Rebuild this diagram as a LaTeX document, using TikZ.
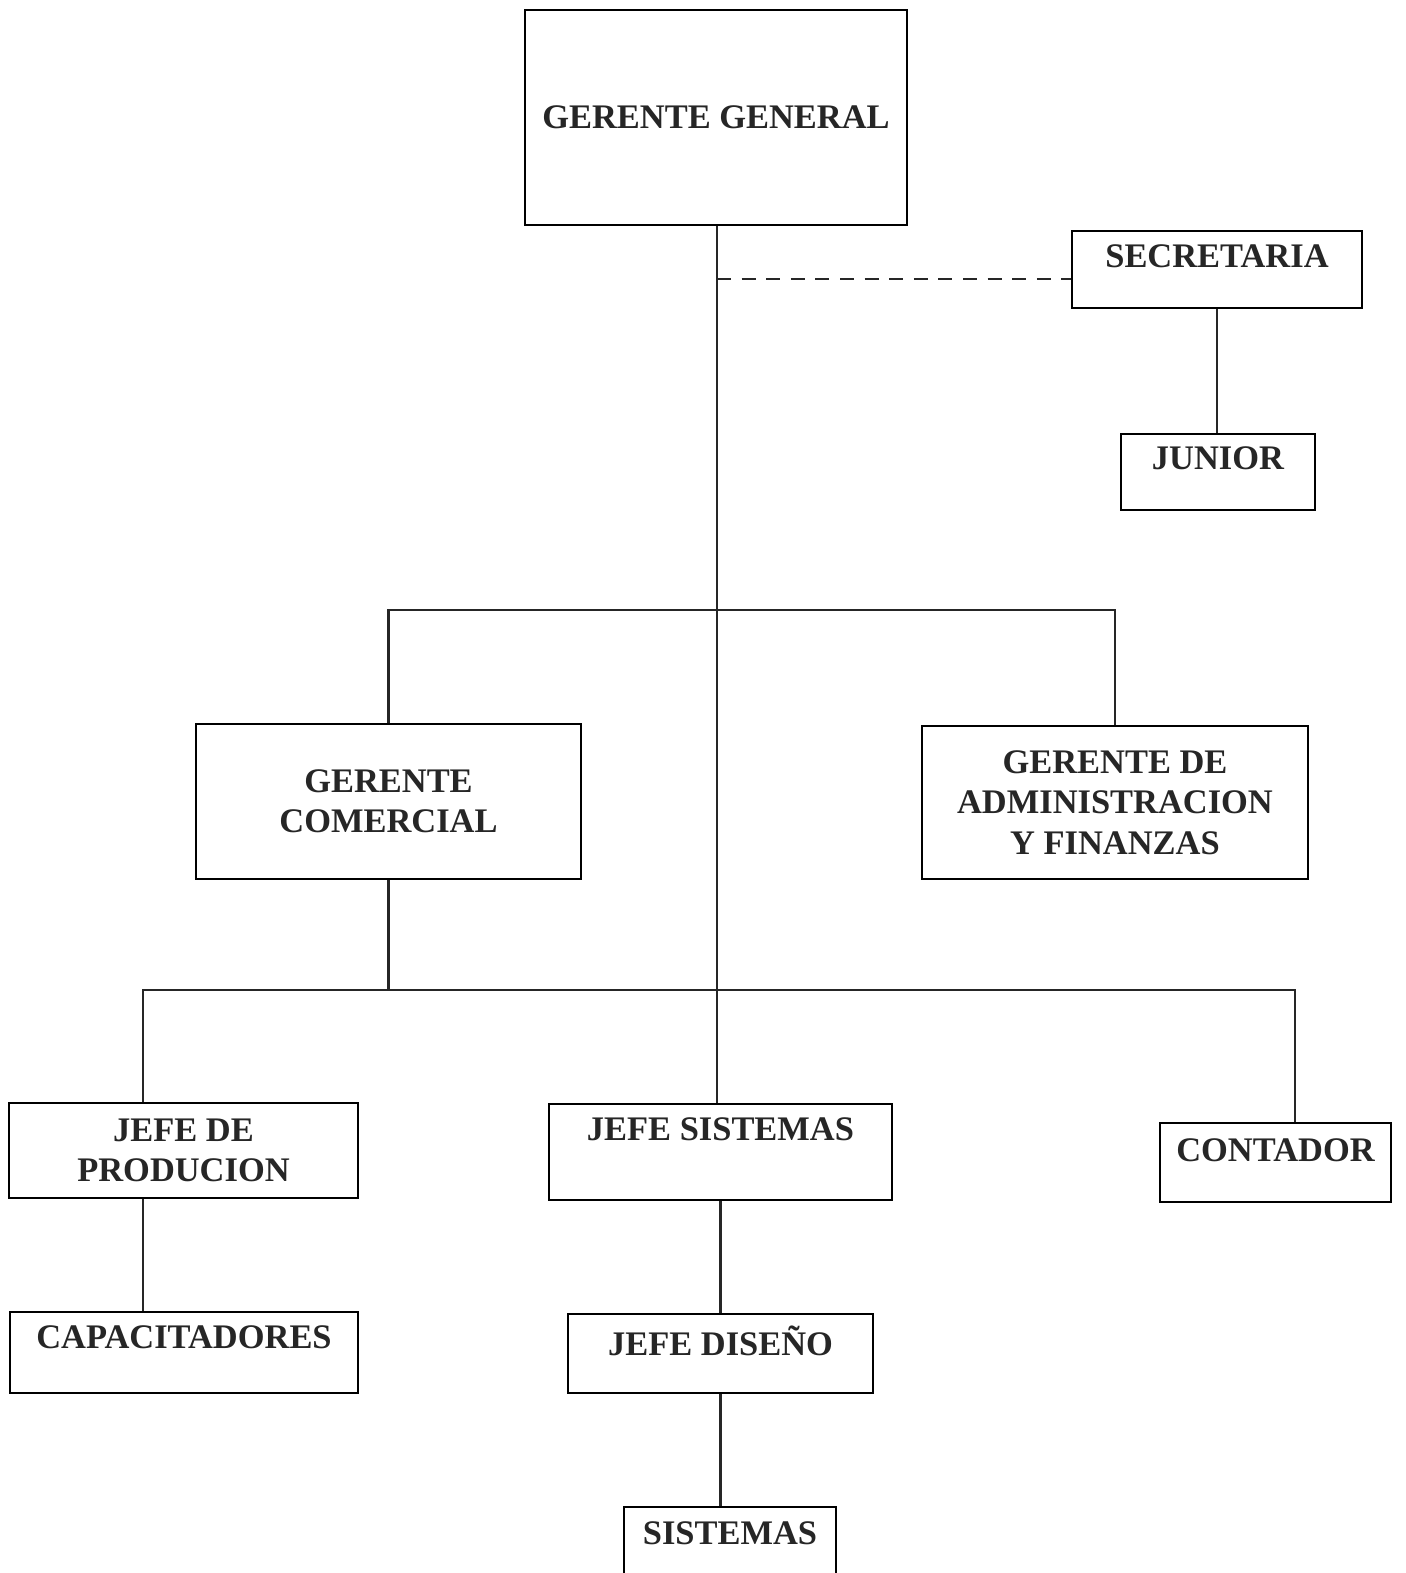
\documentclass[tikz,border=0pt]{standalone}
\usepackage{fontspec}
\setmainfont{Liberation Serif}
\usepackage{tikz}
\usetikzlibrary{positioning}
\tikzstyle{box}=[rectangle,draw=black,line width=0.8pt,inner sep=0pt,text=black!85,font=\fontsize{9.8}{11.5}\selectfont\bfseries,align=center]
\tikzstyle{line}=[line width=0.7pt,draw=black!85]
\tikzstyle{dashline}=[line width=0.6pt,draw=black!85,dash pattern=on 4pt off 3pt]

\begin{document}
\begin{tikzpicture}
            \clip (0,0) rectangle (14.06,-15.73);
            \fill[white] (0,0) rectangle (14.06,-15.73);
            \node (gerente)[box,minimum width=3.82cm,minimum height=2.15cm] at (7.16,-1.175) {GERENTE GENERAL};
            \node (secretaria)[box,minimum width=2.90cm,minimum height=0.77cm,text depth=0.26cm] at (12.17,-2.695) {SECRETARIA};
            \node (junior)[box,minimum width=1.94cm,minimum height=0.76cm,text depth=0.28cm] at (12.18,-4.72) {JUNIOR};
            \node (comercial)[box,minimum width=3.85cm,minimum height=1.55cm] at (3.885,-8.015) {GERENTE\\COMERCIAL};
            \node (admin)[box,minimum width=3.86cm,minimum height=1.53cm] at (11.15,-8.025) {GERENTE DE\\ADMINISTRACION\\Y FINANZAS};
            \node (produccion)[box,minimum width=3.49cm,minimum height=0.95cm] at (1.835,-11.505) {JEFE DE\\PRODUCION};
            \node (jsistemas)[box,minimum width=3.43cm,minimum height=0.96cm,text depth=0.46cm] at (7.205,-11.52) {JEFE SISTEMAS};
            \node (contador)[box,minimum width=2.31cm,minimum height=0.79cm,text depth=0.24cm] at (12.755,-11.625) {CONTADOR};
            \node (capacitadores)[box,minimum width=3.48cm,minimum height=0.81cm,text depth=0.30cm] at (1.84,-13.525) {CAPACITADORES};
            \node (jdiseno)[box,minimum width=3.05cm,minimum height=0.79cm,text depth=0.26cm] at (7.205,-13.535) {JEFE DISEÑO};
            \node (sistemas)[box,minimum width=2.12cm,minimum height=0.78cm,text depth=0.26cm] at (7.30,-15.46) {SISTEMAS};
            % bus points
            \coordinate (dashL) at (7.17,-2.79);
            \coordinate (busA) at (7.17,-6.10);
            \coordinate (busL) at (1.43,-9.90);
            \coordinate (busR) at (12.95,-9.90);
            \draw [line] (gerente.south -| dashL) -- (jsistemas.north -| dashL);
            \draw [dashline] (dashL) -- (dashL -| secretaria.west);
            \draw [line] (secretaria.south) -- (secretaria.south |- junior.north);
            \draw [line] (comercial.north) |- (busA) -| (admin.north);
            \draw [line] (comercial.south) -- (comercial.south |- busL);
            \draw [line] (produccion.north -| busL) -- (busL) -- (busR) -- (contador.north -| busR);
            \draw [line] (produccion.south -| busL) -- (capacitadores.north -| busL);
            \draw [line] (jsistemas.south) -- (jdiseno.north);
            \draw [line] (jdiseno.south) -- (jdiseno.south |- sistemas.north);
        \end{tikzpicture}
\end{document}
